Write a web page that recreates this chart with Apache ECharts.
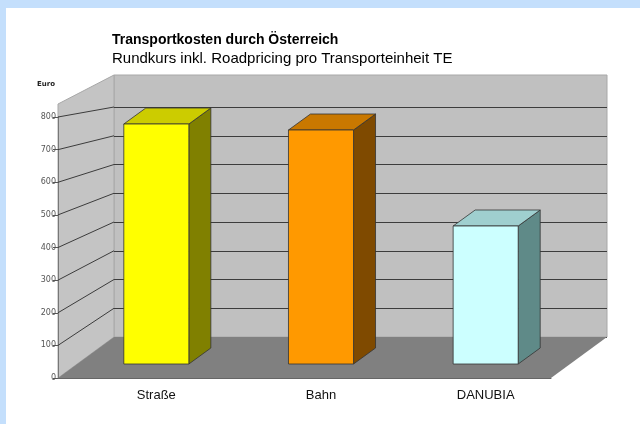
<!DOCTYPE html>
<html>
<head>
<meta charset="utf-8">
<script src="https://cdn.jsdelivr.net/npm/echarts@6/dist/echarts.min.js"></script>
<style>
  html, body { margin: 0; padding: 0; }
  #chart { width: 640px; height: 424px; }
</style>
</head>
<body>
<div id="chart"></div>
<script>
const categories = ['Straße', 'Bahn', 'DANUBIA']
const costs = [800, 780, 460]
const yMax = 800
const yStep = 100

// colours of the three columns: front, top, side
const frontColors = ['#ffff00', '#ff9900', '#ccffff']
const topColors = ['#cccc00', '#c97800', '#9fcfcf']
const sideColors = ['#808000', '#7f4a00', '#5f8a88']

// front edge of the floor / side wall, back wall, plane of the column fronts
const front = { left: 58, top: 117, width: 493, height: 261 }
const back = { left: 114, top: 107, width: 493, height: 230 }
const cols = { left: 74, top: 124, width: 494, height: 240 }
const depth = [22, -16]

const chart = echarts.init(document.getElementById('chart'))

const hiddenX = (gridIndex) => ({
  type: 'category', gridIndex, data: categories, show: false
})
const hiddenY = (gridIndex) => ({
  type: 'value', gridIndex, min: 0, max: yMax, interval: yStep, show: false
})

chart.setOption({
  backgroundColor: '#c4dffc',
  animation: false,
  title: [
    {
      text: 'Transportkosten durch Österreich',
      left: 112, top: 33, padding: 0,
      textStyle: { fontFamily: 'Liberation Sans', fontSize: 14, fontWeight: 'bold', color: '#000' }
    },
    {
      text: 'Rundkurs inkl. Roadpricing pro Transporteinheit TE',
      left: 112, top: 51, padding: 0,
      textStyle: { fontFamily: 'Liberation Sans', fontSize: 15, fontWeight: 'normal', color: '#000' }
    },
    {
      text: 'Euro',
      left: 37, top: 81, padding: 0,
      textStyle: { fontFamily: 'DejaVu Sans', fontSize: 7, fontWeight: 'bold', color: '#222' }
    }
  ],
  grid: [
    { ...front },
    { ...back },
    { ...cols }
  ],
  xAxis: [
    {
      type: 'category',
      gridIndex: 0,
      data: categories,
      z: 3,
      axisLine: { lineStyle: { color: '#666' } },
      axisTick: { length: 3, lineStyle: { color: '#555' } },
      axisLabel: { show: false }
    },
    hiddenX(1),
    {
      type: 'category',
      gridIndex: 2,
      data: categories,
      axisLine: { show: false },
      axisTick: { show: false },
      axisLabel: {
        margin: 25,
        fontFamily: 'Liberation Sans',
        fontSize: 13,
        color: '#111'
      }
    }
  ],
  yAxis: [
    {
      type: 'value',
      gridIndex: 0,
      min: 0,
      max: yMax,
      interval: yStep,
      axisLine: { show: true, lineStyle: { color: '#777' } },
      axisTick: { show: true, length: 5, lineStyle: { color: '#555' } },
      axisLabel: { margin: 2, fontFamily: 'DejaVu Sans', fontSize: 8, color: '#555' },
      splitLine: { show: false }
    },
    {
      type: 'value',
      gridIndex: 1,
      min: 0,
      max: yMax,
      interval: yStep,
      axisLine: { show: false },
      axisTick: { show: false },
      axisLabel: { show: false },
      splitLine: { lineStyle: { color: '#3c3c3c', width: 1 } }
    },
    hiddenY(2)
  ],
  series: [
    {
      type: 'custom',
      name: 'Euro',
      xAxisIndex: 2,
      yAxisIndex: 2,
      z: 5,
      data: costs.map((v, i) => [i, v]),
      renderItem: (params, api) => {
        const i = params.dataIndex
        const top = api.coord([api.value(0), api.value(1)])
        const base = api.coord([api.value(0), 0])
        const w = api.size([1, 0])[0] * 0.395
        const l = top[0] - w / 2
        const r = top[0] + w / 2
        const [dx, dy] = depth
        const edge = { stroke: '#333', lineWidth: 0.8 }
        return {
          type: 'group',
          children: [
            {
              type: 'polygon',
              shape: { points: [[r, top[1]], [r + dx, top[1] + dy], [r + dx, base[1] + dy], [r, base[1]]] },
              style: { fill: sideColors[i], ...edge }
            },
            {
              type: 'polygon',
              shape: { points: [[l, top[1]], [l + dx, top[1] + dy], [r + dx, top[1] + dy], [r, top[1]]] },
              style: { fill: topColors[i], ...edge }
            },
            {
              type: 'rect',
              shape: { x: l, y: top[1], width: w, height: base[1] - top[1] },
              style: { fill: frontColors[i], ...edge }
            }
          ]
        }
      }
    }
  ]
})

// walls and floor, placed from the two value axes
const fy = (v) => chart.convertToPixel({ yAxisIndex: 0 }, v)
const by = (v) => chart.convertToPixel({ yAxisIndex: 1 }, v)
const fl = front.left
const fr = front.left + front.width
const bl = back.left
const br = back.left + back.width
const wallTopBack = by(yMax) - 32
const wallTopFront = fy(yMax) - 13

const sideLines = []
for (let v = yStep; v <= yMax; v += yStep) {
  sideLines.push({
    type: 'line',
    z: 1,
    shape: { x1: fl, y1: fy(v), x2: bl, y2: by(v) },
    style: { stroke: '#3c3c3c', lineWidth: 1 }
  })
}

chart.setOption({
  graphic: [
    {
      type: 'rect', z: -20,
      shape: { x: 6, y: 8, width: 640, height: 424 },
      style: { fill: '#ffffff' }
    },
    {
      type: 'rect', z: -10,
      shape: { x: bl, y: wallTopBack, width: br - bl, height: by(0) - wallTopBack },
      style: { fill: '#c0c0c0', stroke: '#a8a8a8', lineWidth: 1 }
    },
    {
      type: 'polygon', z: -10,
      shape: { points: [[fl, wallTopFront], [bl, wallTopBack], [bl, by(0)], [fl, fy(0)]] },
      style: { fill: '#c4c4c4', stroke: '#a8a8a8', lineWidth: 1 }
    },
    {
      type: 'polygon', z: 2,
      shape: { points: [[fl, fy(0)], [bl, by(0)], [br, by(0)], [fr, fy(0)]] },
      style: { fill: '#808080' }
    },
    ...sideLines
  ]
})
</script>
</body>
</html>
